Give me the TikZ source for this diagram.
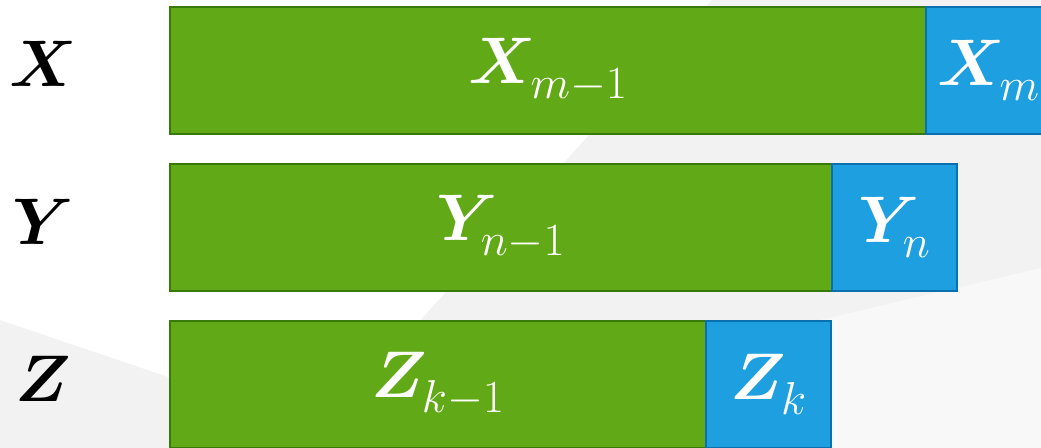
\RequirePackage{fix-cm}
\documentclass[tikz,border=0pt]{standalone}
\usepackage{amsmath}
\usepackage{bm}
\usetikzlibrary{positioning}
\definecolor{mygreen}{RGB}{98,169,24}
\definecolor{mygreenline}{RGB}{56,122,10}
\definecolor{myblue}{RGB}{30,160,224}
\definecolor{myblueline}{RGB}{10,112,176}
\definecolor{bgshade}{RGB}{242,242,242}
\definecolor{bglight}{RGB}{248,248,248}
\newcommand{\lowsub}[1]{\raisebox{-0.1cm}{$\scriptstyle #1$}}
\tikzset{
  headblock/.style={rectangle, draw=mygreenline, fill=mygreen,
    minimum height=2.54cm, anchor=north west, outer sep=0pt,
    text=white, inner sep=0pt, line width=1.4pt},
  lastblock/.style={rectangle, draw=myblueline, fill=myblue,
    minimum width=2.5cm, minimum height=2.54cm, outer sep=0pt,
    text=white, inner sep=0pt, line width=1.4pt},
  rowname/.style={inner sep=0pt, text=black}
}

\begin{document}
\begin{tikzpicture}[every node/.style={font=\fontsize{37.5}{45}\selectfont}]
  % Page frame
  \useasboundingbox (0,0) rectangle (20.82,-8.96);
  \clip (0,0) rectangle (20.82,-8.96);

  % Background shading
  \fill[bgshade] (14.24,0) -- (20.82,0) -- (20.82,-8.96) -- (6.08,-8.96) -- cycle;
  \fill[bglight] (20.82,-5.36) -- (13,-7.2) -- (13,-8.96) -- (20.82,-8.96) -- cycle;
  \fill[bgshade] (0,-6.4) -- (6.08,-8.46) -- (6.08,-8.96) -- (0,-8.96) -- cycle;

  % Row names
  \node[rowname] (xname) at (0.86,-1.28) {$\bm{X}$};
  \node[rowname] (yname) at (0.86,-4.43) {$\bm{Y}$};
  \node[rowname] (zname) at (0.86,-7.57) {$\bm{Z}$};

  % Sequence X
  \node[headblock, minimum width=15.12cm] (xhead) at (3.4,-0.14) {$\bm{X}_{\lowsub{m-1}}$};
  \node[lastblock, right=0pt of xhead] (xlast) {$\bm{X}_{\lowsub{m}}$};

  % Sequence Y
  \node[headblock, minimum width=13.24cm] (yhead) at (3.4,-3.28) {$\bm{Y}_{\lowsub{n-1}}$};
  \node[lastblock, right=0pt of yhead] (ylast) {$\bm{Y}_{\lowsub{n}}$};

  % Sequence Z
  \node[headblock, minimum width=10.72cm] (zhead) at (3.4,-6.42) {$\bm{Z}_{\lowsub{k-1}}$};
  \node[lastblock, right=0pt of zhead] (zlast) {$\bm{Z}_{\lowsub{k}}$};
\end{tikzpicture}
\end{document}
